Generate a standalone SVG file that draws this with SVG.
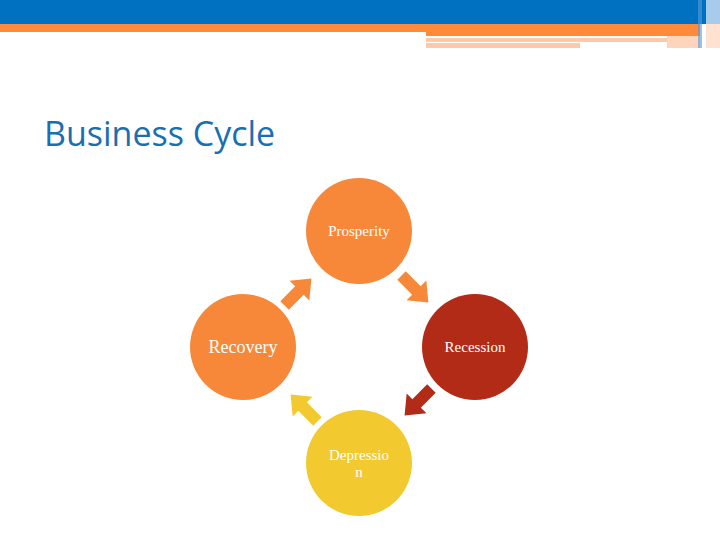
<svg xmlns="http://www.w3.org/2000/svg" width="720" height="540" viewBox="0 0 720 540">
<style>
.n{font-family:"Liberation Serif",serif;fill:#fff;text-anchor:middle}
</style>
<defs><path id="ar" d="M-19,-6 L2,-6 L2,-14 L19,0 L2,14 L2,6 L-19,6 Z"/></defs>
<rect width="720" height="540" fill="#fff"/>
<rect x="0" y="0" width="720" height="24" fill="#0070C0"/>
<rect x="0" y="24" width="700" height="8" fill="#FF8A3C"/>
<rect x="426" y="32" width="274" height="4" fill="#FF8A3C"/>
<rect x="426" y="38" width="241" height="4" fill="#FDC9A8"/>
<rect x="426" y="43" width="154" height="5" fill="#FDC9A8"/>
<rect x="667" y="36" width="33" height="12" fill="#FDD5BC"/>
<rect x="698" y="0" width="4" height="48" fill="#5A9AD6" opacity="0.6"/>
<rect x="706" y="0" width="14" height="24" fill="#A9CBEB"/>
<rect x="706" y="24" width="14" height="24" fill="#FFE2D0"/>
<text x="44" y="146" font-family="Open Sans, sans-serif" font-size="34" fill="#1A6FB0">Business Cycle</text>
<g id="connectors">
<use href="#ar" transform="translate(298,292) rotate(-45)" fill="#F7883A"/>
<use href="#ar" transform="translate(415,289) rotate(45)" fill="#F7883A"/>
<use href="#ar" transform="translate(418,402) rotate(135)" fill="#B22B17"/>
<use href="#ar" transform="translate(304,408) rotate(-135)" fill="#F2C92E"/>
</g>
<g id="prosperity"><circle cx="359" cy="231" r="53" fill="#F7883A"/><text class="n" x="359" y="236" font-size="15">Prosperity</text></g>
<g id="recession"><circle cx="475" cy="347" r="53" fill="#B22B17"/><text class="n" x="475" y="352" font-size="15">Recession</text></g>
<g id="depression"><circle cx="359" cy="463" r="53" fill="#F2C92E"/><text class="n" x="359" y="460" font-size="15">Depressio</text><text class="n" x="359" y="477" font-size="15">n</text></g>
<g id="recovery"><circle cx="243" cy="347" r="53" fill="#F7883A"/><text class="n" x="243" y="353" font-size="18">Recovery</text></g>
</svg>
